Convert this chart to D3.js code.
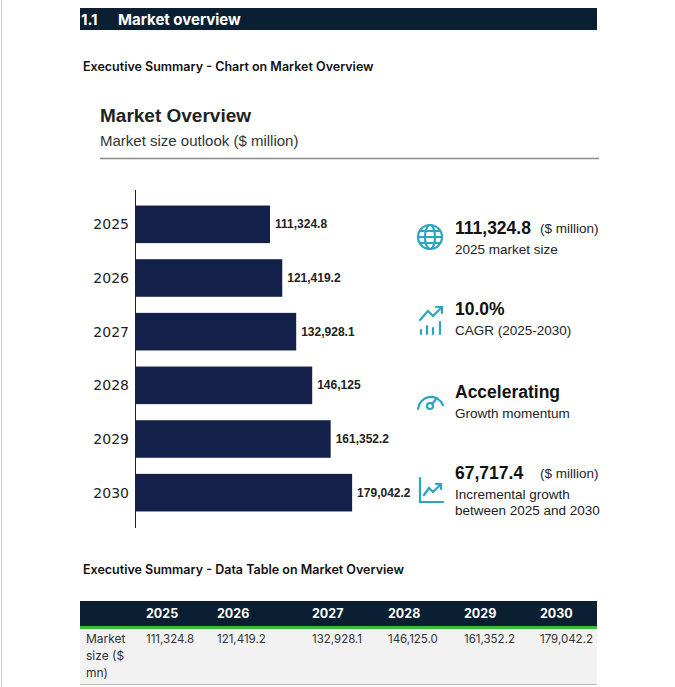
<!DOCTYPE html>
<html><head><meta charset="utf-8">
<script src="https://cdn.jsdelivr.net/npm/d3@7"></script>
<style>body{margin:0;background:#fff}</style>
</head><body>
<div id="chart"></div>
<script>
var years = ["2025","2026","2027","2028","2029","2030"];
var marketSize = [111324.8, 121419.2, 132928.1, 146125.0, 161352.2, 179042.2];
var barLabels = ["111,324.8","121,419.2","132,928.1","146,125","161,352.2","179,042.2"];
var tableLabels = ["111,324.8","121,419.2","132,928.1","146,125.0","161,352.2","179,042.2"];
var kpiValues = ["111,324.8","10.0%","Accelerating","67,717.4"];
var kpiUnits = ["($ million)","","","($ million)"];
var kpiDesc = [["2025 market size"],["CAGR (2025-2030)"],["Growth momentum"],["Incremental growth","between 2025 and 2030"]];

var navy = "#0b1f33", teal = "#2aa6c0", barCol = "#13214a";
var svg = d3.select("#chart").append("svg").attr("width", 675).attr("height", 687);
var font = "Liberation Sans, Arial, sans-serif";
var font2 = "Inter, Noto Sans, sans-serif";

svg.append("line").attr("x1",1.5).attr("x2",1.5).attr("y1",0).attr("y2",687).style("stroke","#ccc");

// section header
svg.append("rect").attr("x",80).attr("y",8).attr("width",517).attr("height",22).style("fill",navy);
svg.append("text").attr("x",81).attr("y",25).text("1.1").style("fill","#fff").style("font-family",font2).style("font-weight",700).style("font-size","15px");
svg.append("text").attr("x",118).attr("y",25).text("Market overview").style("fill","#fff").style("font-family",font2).style("font-weight",700).style("font-size","15px");
svg.append("text").attr("x",83).attr("y",71).text("Executive Summary - Chart on Market Overview").style("font-family",font2).style("font-weight",600).style("font-size","12.5px").style("fill","#111");

svg.append("text").attr("x",100).attr("y",122).text("Market Overview").style("font-family",font).style("font-weight",700).style("font-size","19px").style("fill","#222");
svg.append("text").attr("x",100).attr("y",146).text("Market size outlook ($ million)").style("font-family",font).style("font-size","15px").style("fill","#333");
svg.append("line").attr("x1",100).attr("x2",599).attr("y1",158.5).attr("y2",158.5).style("stroke","#888").style("stroke-width",1.5);

// bars
var x = d3.scaleLinear().domain([0, 111324.8]).range([135, 270]);
var y = d3.scaleBand().domain(years).range([197.5, 519.5]).paddingInner(0.3).paddingOuter(0.15);
svg.append("line").attr("x1",135.5).attr("x2",135.5).attr("y1",190).attr("y2",528).style("stroke","#222");
svg.selectAll(".bar").data(marketSize).enter().append("rect")
  .attr("x", x(0)+1).attr("y", function(d,i){return y(years[i]);})
  .attr("width", function(d){return x(d)-x(0)-1;}).attr("height", y.bandwidth())
  .style("fill", barCol);
svg.selectAll(".yl").data(years).enter().append("text")
  .attr("x",129).attr("y",function(d){return y(d)+y.bandwidth()/2+5;})
  .attr("text-anchor","end").text(function(d){return d;})
  .style("font-family","DejaVu Sans, sans-serif").style("font-size","14px").style("fill","#222");
svg.selectAll(".vl").data(marketSize).enter().append("text")
  .attr("x",function(d){return x(d)+5;}).attr("y",function(d,i){return y(years[i])+y.bandwidth()/2+4;})
  .text(function(d,i){return barLabels[i];})
  .style("font-family",font).style("font-weight",700).style("font-size","12px").style("fill","#222");

// KPIs
var kpiY = [234, 315, 398, 479];
kpiValues.forEach(function(v,i){
  var g = svg.append("g");
  g.append("text").attr("x",455).attr("y",kpiY[i]).text(v).style("font-family",font).style("font-weight",700).style("font-size","17.5px").style("fill","#111");
  if (kpiUnits[i]) g.append("text").attr("x",540).attr("y",kpiY[i]-1).text(kpiUnits[i]).style("font-family",font).style("font-size","13.5px").style("fill","#222");
  kpiDesc[i].forEach(function(d,j){
    g.append("text").attr("x",455).attr("y",kpiY[i]+20+j*16).text(d).style("font-family",font).style("font-size","13.5px").style("fill","#222");
  });
});
var ic = svg.append("g").style("fill","none").style("stroke",teal).style("stroke-width",2.2).style("stroke-linecap","round");
// globe
ic.append("circle").attr("cx",430).attr("cy",237).attr("r",12);
ic.append("ellipse").attr("cx",430).attr("cy",237).attr("rx",5).attr("ry",12);
ic.append("line").attr("x1",418).attr("x2",442).attr("y1",237).attr("y2",237);
ic.append("line").attr("x1",420).attr("x2",440).attr("y1",231).attr("y2",231);
ic.append("line").attr("x1",420).attr("x2",440).attr("y1",243).attr("y2",243);
// growth bars
[[421,330],[427,326],[433,328],[440,322]].forEach(function(p){ic.append("line").attr("x1",p[0]).attr("x2",p[0]).attr("y1",p[1]).attr("y2",334);});
ic.append("path").attr("d","M420,320 L428,311 L433,316 L442,307 M436,307 L442,307 L442,313");
// gauge
ic.append("path").attr("d","M418,409 A13,13 0 0 1 443,405");
ic.append("circle").attr("cx",430).attr("cy",406).attr("r",3);
ic.append("line").attr("x1",432).attr("x2",437).attr("y1",404).attr("y2",398);
// incremental chart
ic.append("path").attr("d","M420,478 L420,502 L443,502");
ic.append("path").attr("d","M424,495 L429,488 L433,492 L441,484 M436,484 L441,484 L441,489");

// table
svg.append("text").attr("x",83).attr("y",574).text("Executive Summary - Data Table on Market Overview").style("font-family",font2).style("font-weight",600).style("font-size","12.5px").style("fill","#111");
svg.append("rect").attr("x",80).attr("y",601).attr("width",517).attr("height",25).style("fill",navy);
svg.append("rect").attr("x",80).attr("y",626).attr("width",517).attr("height",3).style("fill","#3cb93c");
svg.append("rect").attr("x",80).attr("y",629).attr("width",517).attr("height",55).style("fill","#f2f2f2");
svg.append("line").attr("x1",80).attr("x2",597).attr("y1",684.5).attr("y2",684.5).style("stroke","#bbb");
var colX = [146,217,312,388,464,540];
svg.selectAll(".th").data(years).enter().append("text").attr("x",function(d,i){return colX[i];}).attr("y",618)
  .text(function(d){return d;}).style("font-family",font2).style("font-weight",700).style("font-size","12.5px").style("fill","#fff");
svg.selectAll(".td").data(tableLabels).enter().append("text").attr("x",function(d,i){return colX[i];}).attr("y",643)
  .text(function(d){return d;}).style("font-family",font2).style("font-size","11.5px").style("fill","#333");
["Market","size ($","mn)"].forEach(function(s,j){
  svg.append("text").attr("x",86).attr("y",643+j*17).text(s).style("font-family",font2).style("font-size","12px").style("fill","#333");
});
</script>
</body></html>
